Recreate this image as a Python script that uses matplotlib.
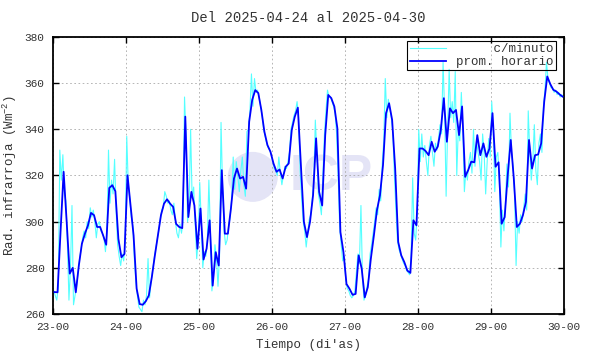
import numpy as np
import matplotlib
matplotlib.use('Agg')
import matplotlib.pyplot as plt
from matplotlib.patches import Ellipse

plt.rcParams['font.family'] = ['Liberation Mono', 'DejaVu Sans Mono']
plt.rcParams['mathtext.fontset'] = 'custom'
plt.rcParams['mathtext.rm'] = 'Liberation Mono'
plt.rcParams['mathtext.it'] = 'Liberation Mono'

# etiquetas del eje x (dia-hora), una por dia
dias = ['23-00', '24-00', '25-00', '26-00', '27-00', '28-00', '29-00', '30-00']
y_ticks = [260, 280, 300, 320, 340, 360, 380]

# promedio horario (W m-2), una fila por dia
prom_horario = [
    269.5, 269.4, 296.0, 321.6, 300.0, 277.5, 280.0, 269.4, 281.0, 290.4, 294.8, 298.4,
    303.8, 302.8, 297.7, 297.7, 294.0, 290.0, 314.6, 315.8, 313.2, 292.6, 284.6, 286.0,
    320.1, 307.0, 294.0, 271.0, 264.3, 264.0, 265.5, 268.0, 276.0, 285.4, 294.0, 302.8,
    307.8, 309.7, 307.8, 306.4, 299.0, 297.7, 297.2, 345.5, 302.0, 312.9, 307.0, 288.3,
    305.7, 283.6, 288.3, 300.6, 272.3, 286.8, 281.0, 322.3, 294.8, 294.8, 305.7, 318.7,
    323.0, 318.7, 319.4, 314.3, 343.3, 352.8, 357.0, 355.7, 348.4, 339.0, 333.2, 330.3,
    325.2, 321.6, 322.6, 318.7, 323.8, 325.2, 339.7, 345.5, 349.4, 324.5, 299.9, 293.3,
    299.9, 311.4, 336.1, 312.9, 307.0, 337.5, 354.9, 353.5, 349.9, 340.4, 295.5, 286.8,
    273.0, 270.9, 268.3, 268.7, 285.4, 279.6, 267.2, 271.6, 283.9, 294.0, 304.9, 311.4,
    324.5, 347.0, 351.3, 344.1, 323.0, 291.2, 285.4, 282.5, 278.8, 277.8, 300.6, 298.4,
    331.7, 331.7, 330.6, 328.8, 334.6, 330.3, 332.5, 339.7, 353.5, 334.6, 349.1, 347.0,
    348.4, 337.5, 349.9, 319.4, 322.3, 326.0, 325.7, 337.5, 328.8, 333.9, 328.1, 331.7,
    347.0, 323.8, 325.7, 299.1, 302.0, 320.1, 335.4, 318.7, 297.7, 299.1, 302.8, 308.6,
    335.4, 323.0, 328.8, 329.1, 333.9, 352.0, 362.9, 359.6, 357.1, 356.4, 355.2, 354.2,
]

# valores c/minuto, leidos cada media hora
c_minuto = [
    270, 268, 266, 272, 331, 318, 329, 312, 309, 290, 266, 280, 307, 264, 268, 272,
    278, 284, 288, 293, 296, 293, 300, 297, 306, 302, 305, 300, 293, 299, 300, 296,
    295, 293, 287, 296, 331, 308, 318, 312, 327, 305, 290, 285, 281, 286, 283, 292,
    337, 316, 310, 302, 298, 284, 274, 268, 263, 262, 261, 266, 264, 268, 284, 267,
    274, 279, 284, 288, 292, 296, 301, 305, 306, 313, 311, 308, 309, 305, 303, 308,
    300, 295, 293, 299, 295, 300, 354, 336, 300, 306, 340, 310, 315, 300, 284, 292,
    317, 300, 280, 287, 285, 292, 318, 296, 270, 276, 290, 284, 272, 285, 343, 315,
    296, 290, 292, 298, 302, 310, 328, 314, 326, 320, 313, 322, 328, 316, 311, 339,
    340, 348, 364, 350, 362, 356, 357, 354, 350, 346, 340, 337, 334, 332, 331, 329,
    326, 323, 322, 320, 328, 321, 316, 320, 324, 323, 326, 330, 340, 343, 346, 348,
    352, 345, 322, 310, 300, 296, 289, 295, 301, 303, 310, 318, 344, 330, 312, 308,
    303, 320, 338, 348, 357, 354, 354, 352, 350, 347, 338, 320, 298, 290, 283, 285,
    275, 271, 270, 268, 267, 268, 270, 278, 286, 282, 307, 276, 266, 268, 272, 275,
    286, 290, 295, 300, 306, 303, 314, 309, 325, 335, 362, 345, 353, 349, 345, 338,
    320, 305, 292, 288, 286, 284, 282, 281, 279, 278, 277, 285, 319, 295, 292, 305,
    340, 326, 338, 328, 333, 326, 320, 333, 337, 330, 324, 334, 331, 336, 342, 338,
    369, 348, 311, 340, 366, 345, 352, 343, 365, 320, 340, 335, 356, 340, 313, 322,
    318, 326, 330, 321, 340, 324, 335, 330, 326, 318, 338, 330, 312, 326, 336, 328,
    352, 340, 313, 328, 330, 318, 289, 305, 296, 308, 325, 315, 347, 330, 324, 312,
    281, 300, 295, 303, 300, 306, 312, 305, 348, 330, 318, 326, 342, 322, 316, 334,
    338, 330, 350, 357, 369, 362, 360, 358, 358, 356, 357, 355, 356, 354, 355, 354,
]

t_hora = np.arange(len(prom_horario)) + 0.5
t_min = np.arange(len(c_minuto)) * 0.5 + 0.25

txt = '#333333'

fig = plt.figure(figsize=(5.9, 3.54), dpi=100)
ax = fig.add_axes([0.0898, 0.113, 0.8661, 0.7825])

# logo de fondo (marca de agua)
ax.add_patch(Ellipse((0.391, 0.495), 50 / 511, 50 / 277, transform=ax.transAxes,
                     facecolor='#e4e4f6', edgecolor='none', zorder=0))
ax.text(0.545, 0.495, 'ICP', transform=ax.transAxes, ha='center', va='center',
        fontsize=36, fontweight='bold', family='Liberation Sans',
        color='#e4e4f6', zorder=0)

ax.plot(t_min, c_minuto, color='#55ffff', lw=0.8, label='     c/minuto', zorder=2)
ax.plot(t_hora, prom_horario, color='#0000ff', lw=1.3, label='prom. horario', zorder=3)

ax.set_xlim(0, 168)
ax.set_ylim(260, 380)
ax.set_xticks(np.arange(len(dias)) * 24)
ax.set_xticklabels(dias)
ax.set_yticks(y_ticks)

ax.grid(True, color='#aaaaaa', lw=0.6, linestyle=(0, (2, 3)))
ax.tick_params(direction='in', length=4, width=1, top=True, right=True,
               labelsize=8, colors='black', labelcolor=txt, pad=6)
for s in ax.spines.values():
    s.set_linewidth(1.3)

ax.set_title('Del 2025-04-24 al 2025-04-30', fontsize=10, color=txt, pad=11)
ax.set_xlabel('Tiempo (di\'as)', fontsize=9, color=txt, labelpad=5)
ax.set_ylabel('Rad. infrarroja (Wm$^{-2}$)', fontsize=9, color=txt)
ax.yaxis.set_label_coords(-0.066, 0.5)

leg = ax.legend(loc='upper right', bbox_to_anchor=(0.984, 0.986), borderaxespad=0,
                fontsize=9, handlelength=2.9, handletextpad=0.8, labelspacing=0.05,
                borderpad=0.2, fancybox=False, framealpha=1)
leg.get_frame().set_facecolor('none')
leg.get_frame().set_edgecolor('black')
leg.get_frame().set_linewidth(0.8)
for t in leg.get_texts():
    t.set_color(txt)

fig.savefig('out.png', dpi=100)
